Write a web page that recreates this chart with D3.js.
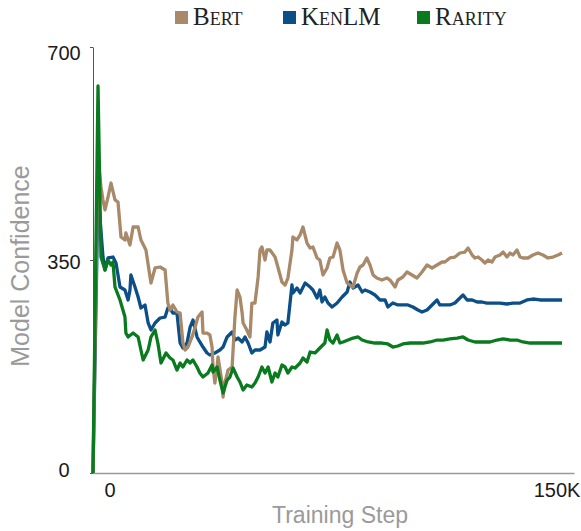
<!DOCTYPE html>
<html><head><meta charset="utf-8">
<script src="https://cdn.jsdelivr.net/npm/d3@7"></script>
<style>body{margin:0;background:#fff} svg{display:block}</style>
</head><body>
<svg id="chart" width="581" height="531"></svg>
<script>
// ---- data (steps in thousands, confidence values) ----
const seriesNames = ["Bert", "KenLM", "Rarity"];
const yTickValues = [0, 350, 700];
const yTickLabels = ["0", "350", "700"];
const xTickValues = [0, 150];
const xTickLabels = ["0", "150K"];

const bertData = [[0,0],[1.6,520],[2.55,470],[3.19,448.6],[3.83,432.2],[4.79,453.5],[5.74,476.5],[7.02,448.6],[7.98,445.3],[8.94,387.8],
[10.2,382.9],[10.5,394.4],[11.8,374.7],[12.8,404.2],[14.4,404.2],[15.3,382.9],[16.9,366.4],[18.2,322.1],[18.5,312.2],[19.8,336.9],
[21.4,338.5],[23.0,333.6],[23.9,279.3],[24.6,267.8],[25.5,276.1],[26.8,264.6],[27.8,262.9],[28.7,213.6],[29.4,202.1],[30.3,207.0],
[31.6,223.5],[32.6,239.9],[33.5,256.3],[34.8,264.6],[35.1,230.0],[36.4,230.0],[37.3,226.8],[38.0,207.0],[38.3,174.2],[38.9,147.9],
[39.6,174.2],[39.9,190.6],[41.2,147.9],[41.5,124.9],[42.1,147.9],[43.1,169.2],[44.4,174.2],[45.3,256.3],[46.0,300.7],[46.9,289.2],
[47.6,262.9],[47.9,246.5],[49.1,235.0],[50.1,223.5],[50.7,279.3],[51.7,279.3],[52.7,322.1],[53.3,366.4],[53.9,371.4],[54.9,350.0],
[55.5,366.4],[56.5,366.4],[58.1,354.9],[59.0,338.5],[60.3,313.9],[61.3,308.9],[62.2,320.4],[63.5,366.4],[63.8,387.8],[65.1,382.9],
[66.1,391.1],[67.0,404.2],[68.3,377.9],[69.3,369.7],[70.2,371.4],[71.5,353.3],[72.4,350.0],[73.4,325.4],[74.7,336.9],[75.6,353.3],
[76.6,354.9],[77.9,377.9],[78.8,366.4],[79.8,333.6],[81.1,312.2],[82.0,308.9],[83.0,305.6],[84.3,328.6],[85.2,338.5],[86.2,341.8],
[87.4,353.3],[88.4,341.8],[89.4,325.4],[90.6,320.4],[92.2,317.1],[93.8,320.4],[94.8,317.1],[96.4,305.6],[97.3,317.1],[98.9,322.1],
[100.2,330.3],[101.8,325.4],[103.4,320.4],[105.0,330.3],[106.6,341.8],[108.2,336.9],[109.8,341.8],[111.4,346.7],[112.3,346.7],[113.9,353.3],
[115.5,354.9],[117.1,361.5],[118.7,363.1],[119.7,369.7],[121.0,358.2],[121.9,353.3],[122.9,354.9],[124.1,350.0],[125.1,345.1],[126.1,350.0],
[127.3,346.7],[128.3,354.9],[129.9,358.2],[130.9,363.1],[132.1,354.9],[133.1,361.5],[134.0,358.2],[135.3,366.4],[136.3,354.9],[137.2,353.3],
[138.8,353.3],[140.4,358.2],[142.0,361.5],[143.6,358.2],[145.2,353.3],[146.8,354.9],[148.4,358.2],[149.7,361.5]];

const kenlmData = [[0,0],[1.6,460],[3.19,354.9],[3.83,333.6],[4.79,353.3],[6.38,354.9],[7.34,345.1],[8.62,305.6],[10.2,300.7],[11.2,284.3],
[11.8,300.7],[12.1,325.4],[13.4,305.6],[14.4,289.2],[15.3,271.1],[16.6,276.1],[17.6,246.5],[18.5,235.0],[19.8,246.5],[21.4,254.7],
[23.0,256.3],[23.9,271.1],[24.6,270.0],[25.5,262.9],[26.8,262.9],[27.8,213.6],[28.7,205.4],[30.0,213.6],[31.0,239.9],[31.9,251.4],
[33.2,223.5],[34.1,215.3],[35.1,207.0],[36.4,197.2],[37.3,193.9],[38.9,197.2],[40.5,202.1],[41.5,207.0],[42.8,223.5],[44.4,231.7],
[45.3,218.5],[46.3,221.8],[47.6,215.3],[48.5,223.5],[49.5,213.6],[50.7,197.2],[51.7,202.1],[53.3,202.1],[54.9,207.0],[55.5,231.7],
[56.5,215.3],[57.4,246.5],[58.7,251.4],[59.0,226.8],[60.3,248.1],[61.3,243.2],[62.2,246.5],[63.5,308.9],[63.8,295.8],[65.1,304.0],
[66.1,295.8],[67.7,312.2],[69.3,305.6],[70.2,300.7],[71.5,287.6],[72.4,300.7],[73.1,281.0],[74.0,289.2],[75.0,279.3],[76.3,272.8],
[77.9,279.3],[79.5,289.2],[81.1,297.4],[82.0,313.9],[83.0,304.0],[84.6,308.9],[85.9,297.4],[86.8,300.7],[88.4,297.4],[90.0,292.5],
[91.6,284.3],[93.2,284.3],[94.1,272.8],[95.7,279.3],[97.3,276.1],[98.9,276.1],[100.5,276.1],[102.1,272.8],[103.7,267.8],[105.0,264.6],
[106.6,267.8],[108.2,276.1],[109.8,284.3],[110.7,276.1],[112.3,276.1],[113.9,276.1],[115.5,279.3],[117.1,287.6],[118.1,292.5],[119.4,284.3],
[121.0,284.3],[122.6,281.0],[124.1,281.0],[125.7,279.3],[127.7,279.3],[129.9,279.3],[132.1,277.7],[134.0,279.3],[136.3,279.3],[138.5,284.3],
[140.4,285.9],[142.7,284.3],[144.9,284.3],[146.8,284.3],[149.7,284.3]];

const rarityData = [[0,0],[1.6,636],[2.55,354.9],[3.83,333.6],[4.79,350.0],[5.74,341.8],[6.38,346.7],[7.02,305.6],[8.62,284.3],[10.2,256.3],
[10.5,230.0],[11.2,223.5],[12.8,230.0],[14.4,223.5],[15.3,202.1],[16.0,185.7],[17.6,202.1],[18.5,223.5],[19.8,235.0],[20.7,213.6],
[21.4,190.6],[21.7,180.8],[23.3,197.2],[24.6,189.0],[25.5,185.7],[26.8,169.2],[27.8,180.8],[28.7,174.2],[30.0,185.7],[31.0,180.8],
[31.9,185.7],[33.2,174.2],[34.1,164.3],[35.1,157.7],[36.7,164.3],[38.0,177.5],[38.3,166.0],[39.6,174.2],[40.5,152.8],[41.5,131.5],
[42.8,152.8],[43.7,157.7],[44.7,172.5],[46.0,157.7],[46.9,149.5],[47.9,136.4],[49.1,144.6],[50.7,141.3],[51.7,147.9],[52.7,157.7],
[53.9,174.2],[54.9,164.3],[55.9,174.2],[57.1,149.5],[58.1,164.3],[59.0,157.7],[60.3,177.5],[61.3,174.2],[62.2,164.3],[63.5,174.2],
[64.5,172.5],[66.1,180.8],[67.0,189.0],[68.3,182.4],[69.3,198.8],[70.9,197.2],[72.4,205.4],[74.0,213.6],[74.7,235.0],[75.6,218.5],
[76.6,213.6],[77.9,226.8],[78.8,213.6],[79.8,215.3],[81.4,218.5],[83.0,221.8],[84.6,223.5],[85.9,218.5],[87.8,215.3],[90.0,213.6],
[92.2,213.6],[94.1,212.0],[95.7,207.0],[97.3,208.7],[98.9,212.0],[101.2,213.6],[103.4,213.6],[105.3,213.6],[107.6,215.3],[109.8,218.5],
[111.7,218.5],[113.9,220.2],[116.2,221.8],[118.1,223.5],[119.7,218.5],[121.9,215.3],[124.5,215.3],[126.7,215.3],[128.9,218.5],[130.9,220.2],
[133.1,218.5],[135.3,218.5],[137.2,215.3],[139.5,213.6],[141.7,213.6],[143.6,213.6],[145.9,213.6],[148.1,213.6],[149.7,213.6]];

// ---- drawing ----
const colors = {Bert: "#a8896a", KenLM: "#0b4f86", Rarity: "#0a7a1f"};
const svg = d3.select("#chart");

const x = d3.scaleLinear().domain([0, 150]).range([93, 563]);
const y = d3.scaleLinear().domain([0, 700]).range([473, 47]);
const xLabelPos = d3.scaleLinear().domain([0, 150]).range([110, 557]);
const yLabelPos = d3.scaleLinear().domain([0, 700]).range([470, 53]);

// x axis (light gray baseline)
const xAxisScale = d3.scaleLinear().domain([0, x.invert(574)]).range([93, 574]);
const gx = svg.append("g").attr("transform", "translate(0,473)")
  .call(d3.axisBottom(xAxisScale).tickValues([]).tickSizeOuter(0));
gx.select(".domain").attr("stroke", "#9a9a9a").attr("stroke-width", 1.6);

svg.append("g").selectAll("text").data(xTickValues).join("text")
  .attr("x", d => xLabelPos(d)).attr("y", 497)
  .attr("text-anchor", "middle")
  .attr("font-family", "Liberation Sans, Arial, sans-serif").attr("font-size", 20)
  .attr("fill", "#1a1a1a")
  .text((d, i) => xTickLabels[i]);

// y axis
const gy = svg.append("g").attr("transform", "translate(93,0)")
  .call(d3.axisLeft(y).tickValues(yTickValues).tickSize(3).tickSizeOuter(0).tickFormat(""));
gy.select(".domain").attr("stroke", "#555").attr("stroke-width", 1);
gy.selectAll(".tick line").attr("stroke", "#555");

svg.append("g").selectAll("text").data(yTickValues).join("text")
  .attr("x", 64).attr("y", d => yLabelPos(d)).attr("dy", "0.35em")
  .attr("text-anchor", "middle")
  .attr("font-family", "Liberation Sans, Arial, sans-serif").attr("font-size", 20)
  .attr("fill", "#1a1a1a")
  .text((d, i) => yTickLabels[i]);

// axis titles
svg.append("text").attr("x", 340).attr("y", 523).attr("text-anchor", "middle")
  .attr("font-family", "Liberation Sans, Arial, sans-serif").attr("font-size", 23)
  .attr("fill", "#9a9a9a").text("Training Step");
svg.append("text").attr("transform", "translate(29,266) rotate(-90)").attr("text-anchor", "middle")
  .attr("font-family", "Liberation Sans, Arial, sans-serif").attr("font-size", 25)
  .attr("fill", "#9a9a9a").text("Model Confidence");

// lines
const line = d3.line().x(d => x(d[0])).y(d => y(d[1]));
const drawOrder = [["KenLM", kenlmData], ["Bert", bertData], ["Rarity", rarityData]];
svg.append("g").selectAll("path").data(drawOrder).join("path")
  .attr("d", d => line(d[1]))
  .attr("fill", "none")
  .attr("stroke", d => colors[d[0]])
  .attr("stroke-width", 3.3)
  .attr("stroke-linejoin", "round");

// legend
const legendX = [175, 283, 417];
const lg = svg.append("g").selectAll("g").data(seriesNames).join("g")
  .attr("transform", (d, i) => `translate(${legendX[i]},0)`);
lg.append("rect").attr("x", 0).attr("y", 11).attr("width", 13).attr("height", 13)
  .attr("fill", d => colors[d]);
lg.append("text").attr("x", 18).attr("y", 25)
  .attr("font-family", "Liberation Serif, Times New Roman, serif").attr("font-size", 25)
  .style("font-variant", "small-caps").attr("fill", "#222")
  .text(d => d);
</script>
</body></html>
